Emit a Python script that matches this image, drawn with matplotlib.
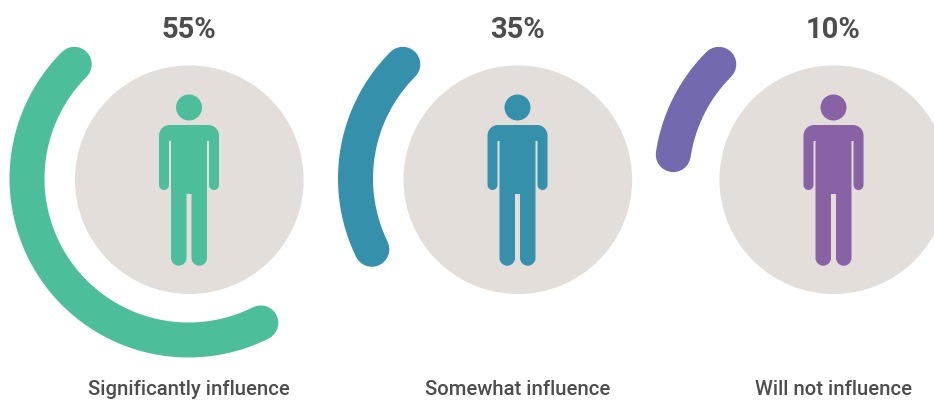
import numpy as np
import matplotlib
matplotlib.use("Agg")
import matplotlib.pyplot as plt
from matplotlib.patches import Circle, PathPatch
from matplotlib.path import Path

percents = ["55%", "35%", "10%"]
labels = ["Significantly influence", "Somewhat influence", "Will not influence"]
center_x = [189, 517.5, 833.5]
arc_end_deg = [296.6, 206, 171.5]
arc_colors = ["#4DBE9C", "#3590AC", "#7269AE"]
person_colors = ["#4DBE9C", "#3590AC", "#8862A4"]

arc_start_deg = 135
center_y = 180.7
ring_y = 179.5
ring_r = 161.5
ring_w = 35
disc_r = 114.3
disc_color = "#E3DED9"
text_color = "#4D4D4D"

W, H = 934, 402
dpi = 100
px = 72 / dpi
k = 0.55


def round_corner(p0, c, p1):
    # cubic from p0 to p1 bending round the corner point c
    return [(p0[0] + k * (c[0] - p0[0]), p0[1] + k * (c[1] - p0[1])),
            (p1[0] + k * (c[0] - p1[0]), p1[1] + k * (c[1] - p1[1])), p1]


def person_path(cx):
    # left half outline in pixels, then mirrored
    v = [(0, 126), (-19.5, 126)]
    c = [Path.MOVETO, Path.LINETO]

    def add(c0, p1):
        v.extend(round_corner(v[-1], c0, p1))
        c.extend([Path.CURVE4] * 3)

    def line(p):
        v.append(p)
        c.append(Path.LINETO)

    add((-30, 126), (-30, 136.5))
    line((-30, 186))
    add((-30, 191), (-25, 191))
    add((-20, 191), (-20, 186))
    line((-20, 142))
    line((-18, 142))
    line((-18, 259))
    add((-18, 266.7), (-10.25, 266.7))
    add((-2.5, 266.7), (-2.5, 259))
    line((-2.5, 195))
    rev = [(-x, y) for x, y in v[::-1]]
    verts = v + rev
    codes = c + [Path.LINETO] + c[1:][::-1]
    verts.append((0, 126))
    codes.append(Path.CLOSEPOLY)
    return Path([(cx + x, H - y) for x, y in verts], codes)


fig = plt.figure(figsize=(W / dpi, H / dpi), dpi=dpi)
ax = fig.add_axes([0, 0, 1, 1])
ax.set_xlim(0, W)
ax.set_ylim(0, H)
ax.axis("off")

for i in range(3):
    cx = center_x[i]
    ax.add_patch(Circle((cx + 0.3, H - center_y), disc_r, color=disc_color, lw=0))
    t = np.radians(np.linspace(arc_start_deg, arc_end_deg[i], 200))
    ax.plot(cx - 0.5 + ring_r * np.cos(t), H - ring_y + ring_r * np.sin(t), color=arc_colors[i],
            lw=ring_w * px, solid_capstyle="round")
    ax.add_patch(Circle((cx, H - 108.5), 13, color=person_colors[i], lw=0))
    ax.add_patch(PathPatch(person_path(cx), facecolor=person_colors[i], lw=0))
    ax.text(cx, H - 30, percents[i], ha="center", va="center", color=text_color,
            fontsize=21, fontweight="bold", family="Roboto")
    ax.text(cx, H - 389.5, labels[i], ha="center", va="center", color=text_color,
            fontsize=14.6, family="Roboto", fontweight="medium")

fig.savefig("out.png", dpi=dpi)
